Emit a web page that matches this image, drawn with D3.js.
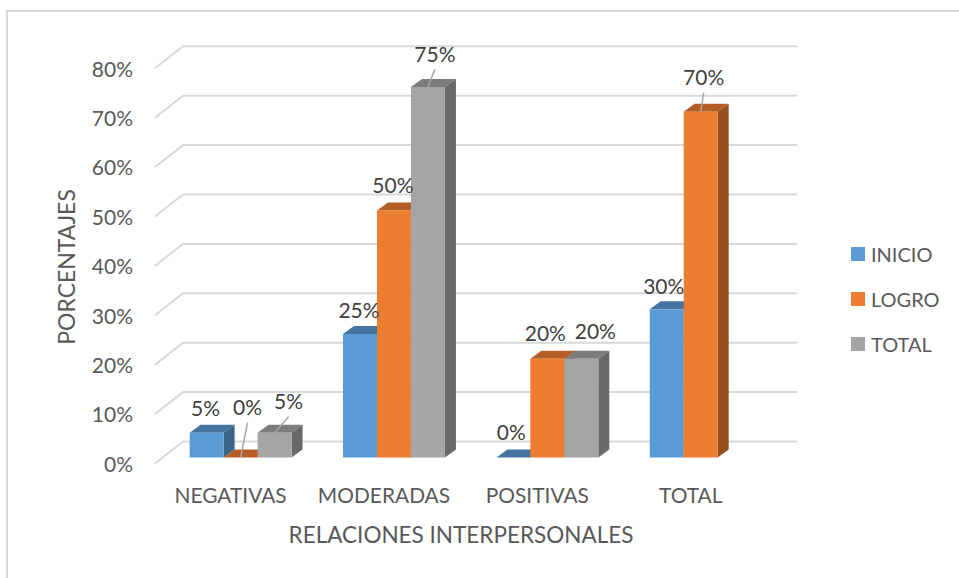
<!DOCTYPE html>
<html><head><meta charset="utf-8">
<style>html,body{margin:0;padding:0;background:#fff;overflow:hidden}svg{display:block}text{font-family:Lato,"Open Sans",sans-serif;fill:#595959}</style>
<script src="https://cdn.jsdelivr.net/npm/d3@7"></script>
</head><body><svg id="c" width="959" height="578"></svg>
<script>
const categories = ["NEGATIVAS","MODERADAS","POSITIVAS","TOTAL"];
const seriesNames = ["INICIO","LOGRO","TOTAL"];
const inicio = [5,25,0,30];
const logro = [0,50,20,70];
const total = [5,75,20,null];
const yTicks = [0,10,20,30,40,50,60,70,80];
const seriesValues = [inicio,logro,total];
const faceFront = ["#5B9BD5","#ED7D31","#A5A5A5"];
const faceTop = ["#44749F","#B45E25","#7C7C7C"];
const faceSide = ["#3A6488","#965020","#696969"];
// label placement relative to the top-centre of each bar: [dx, dy, leader]
const labelNudge = [
 [[-1,-25,0],[7,-51,1],[14,-32,1]],
 [[-1,-25,0],[-1,-26,0],[7,-34,1]],
 [[-2,-26,0],[-2,-26,0],[14,-28,0]],
 [[-3,-24,0],[3,-35,1],null]
];
const svg = d3.select("#c");
const depthX = 11, depthY = -8, wallY = -22;
const x = d3.scaleBand().domain(categories).range([163.9,777.4]).paddingInner(.3355).paddingOuter(.1678);
const xs = d3.scaleBand().domain(d3.range(3)).range([0,x.bandwidth()]);
const y = d3.scaleLinear().domain([0,80]).range([457.5,62.3]);

// frame
svg.append("path").attr("d","M959,11H7V578").attr("fill","none").attr("stroke","#d9d9d9").attr("stroke-width",2);

// wall gridlines with their floor-side diagonals
const gy = v => y(v)+wallY+6;
svg.append("g").selectAll("path").data(yTicks).join("path")
 .attr("d",v=>`M155,${gy(v)+22}L183,${gy(v)}H797`)
 .attr("fill","none").attr("stroke","#d9d9d9").attr("stroke-width",2);

// y axis
const yAxis = d3.axisLeft(y).tickValues(yTicks).tickSize(0).tickPadding(0).tickFormat(d=>d+"%");
const ga = svg.append("g").attr("transform","translate(133,7)").call(yAxis);
ga.select(".domain").remove();
ga.selectAll("text").attr("font-size",21).style("font-family",'Lato,"Open Sans",sans-serif').attr("fill","#595959");

// bars
categories.forEach((cat,ci)=>{
 seriesValues.forEach((vals,si)=>{
  const v = vals[ci]; if(v===null) return;
  const x0 = x(cat)+xs(si), w = xs.bandwidth(), yb = y(0), yt = y(v);
  const g = svg.append("g");
  g.append("path").attr("fill",faceTop[si])
   .attr("d",`M${x0},${yt}l${depthX},${depthY}h${w}l${-depthX},${-depthY}Z`);
  g.append("path").attr("fill",faceSide[si])
   .attr("d",`M${x0+w},${yt}l${depthX},${depthY}V${yb+depthY}l${-depthX},${-depthY}Z`);
  g.append("rect").attr("x",x0).attr("y",yt).attr("width",w).attr("height",yb-yt).attr("fill",faceFront[si]);
 });
});
// labels and leaders on top
categories.forEach((cat,ci)=>{
 seriesValues.forEach((vals,si)=>{
  const v = vals[ci]; if(v===null) return;
  const cx = x(cat)+xs(si)+xs.bandwidth()/2, yt = y(v), n = labelNudge[ci][si];
  if(n[2]) svg.append("line").attr("x1",cx).attr("y1",yt).attr("x2",cx+n[0]).attr("y2",yt+n[1]+16)
    .attr("stroke","#a6a6a6").attr("stroke-width",1.5);
  svg.append("text").attr("x",cx+n[0]).attr("y",yt+n[1]).attr("text-anchor","middle")
   .attr("dominant-baseline","central").attr("font-size",21).style("fill","#404040").text(v+"%");
 });
});

// category labels
svg.append("g").selectAll("text").data(categories).join("text")
 .attr("x",d=>x(d)+x.bandwidth()/2-10).attr("y",494).attr("text-anchor","middle")
 .attr("dominant-baseline","central").attr("font-size",20.9).text(d=>d);

// titles
svg.append("text").attr("x",461).attr("y",534).attr("text-anchor","middle").attr("dominant-baseline","central")
 .attr("font-size",22.5).text("RELACIONES INTERPERSONALES");
svg.append("text").attr("transform","translate(66,267) rotate(-90)").attr("text-anchor","middle").attr("dominant-baseline","central")
 .attr("font-size",23).text("PORCENTAJES");

// legend
const legend = svg.append("g").selectAll("g").data(seriesNames).join("g")
 .attr("transform",(d,i)=>`translate(851,${247+i*45})`);
legend.append("rect").attr("width",14).attr("height",14).attr("fill",(d,i)=>faceFront[i]);
legend.append("text").attr("x",20).attr("y",6.5).attr("dominant-baseline","central").attr("font-size",20).text(d=>d);
</script></body></html>
